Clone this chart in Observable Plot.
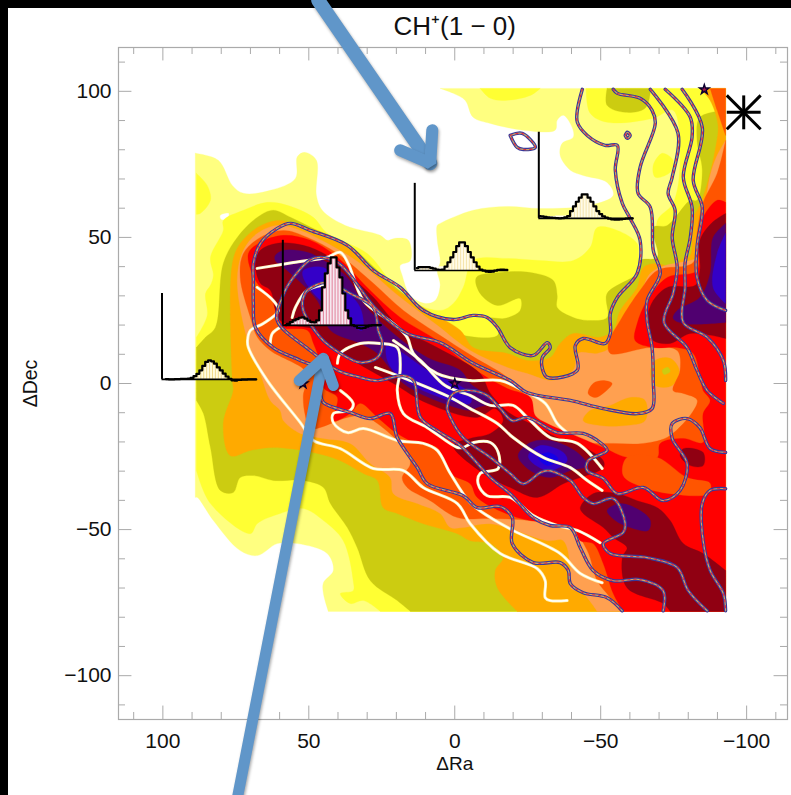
<!DOCTYPE html>
<html><head><meta charset="utf-8">
<script src="https://cdn.jsdelivr.net/npm/d3@7"></script>
<script src="https://cdn.jsdelivr.net/npm/@observablehq/plot@0.6"></script>
<style>
html,body{margin:0;padding:0;background:#fff;overflow:hidden}
#edgeT{position:absolute;left:0;top:0;width:791px;height:8px;background:#000}
#edgeL{position:absolute;left:0;top:0;width:8px;height:795px;background:#000}
#chart{position:absolute;left:0;top:0}
.arrow{filter:drop-shadow(1.5px 2px 1.5px rgba(0,0,0,.35))}
</style></head><body>
<div id="edgeT"></div><div id="edgeL"></div><div id="chart"></div>
<script>
const titleText="CH⁺(1 − 0)", xLabel="ΔRa", yLabel="ΔDec";
const xTicks=[100,50,0,-50,-100], yTicks=[100,50,0,-50,-100];
const xMinor=[110,90,80,70,60,40,30,20,10,-10,-20,-30,-40,-60,-70,-80,-90,-110];
const yMinor=[110,90,80,70,60,40,30,20,10,-10,-20,-30,-40,-60,-70,-80,-90,-110];

// filled emission levels, [dRa, dDec]
const paleMain=[[88.9,78.8],[81,76.4],[76.2,67.8],[72.4,65.1],[63.2,66.1],[54.6,70.2],[53.9,77.7],[51.2,79.1],[47.4,76.4],[47.4,64.4],[45.4,59.3],[37.5,54.1],[25.5,50.7],[23.1,49],[20.4,49.7],[15.9,49],[15.2,42.1],[18.7,40.4],[18,37],[15.2,30.1],[10.1,27.4],[6.7,28.4],[5,33.6],[6,38.7],[5,41.4],[6,49],[6,54.1],[5,54.8],[-6.3,59.3],[-18,60.6],[-29.3,59.9],[-46.4,61],[-54.3,64.4],[-52.2,68.8],[-44,71.2],[-39.6,73],[-36.1,78.1],[-36.8,82.2],[-40.6,84.3],[-40.2,87.7],[-37.2,91.8],[-35.1,90.1],[-34.4,86.7],[-23.5,86.7],[-12.2,89],[-6.3,91.1],[-3.6,96.9],[0.5,99.3],[5,101],[-92.8,101],[-92.8,-78],[43.3,-78],[45,-71.9],[45,-68.2],[41.6,-64],[43.7,-58.2],[53.9,-54.8],[60.8,-54.8],[67.6,-58.9],[73.5,-57.2],[82.7,-46.9],[88.2,-39],[88.9,-39]];
const whiteSpeck=[[80.3,57.5],[77.5,58.2],[77.9,56.5],[80,56.2]];
const yellowMain=[[82.7,37],[83.7,33.6],[85.4,30.8],[84.8,23.3],[88.5,15.8],[88.5,-29.8],[83.7,-41.1],[70,-51.4],[67.6,-47.9],[59.8,-44.5],[51.9,-42.8],[45,-46.9],[38.2,-53.8],[34.8,-67.5],[34.8,-70.9],[39.2,-71.9],[35.8,-75.3],[31.3,-74.3],[25.5,-78],[-92.8,-78],[-92.8,101],[-45,101],[-46.4,92.5],[-52.2,89.4],[-68,90.8],[-74.8,93.5],[-77.2,76.4],[-74.8,61.7],[-69.4,55.8],[-69.4,43.2],[-63.5,42.1],[-62.5,47.9],[-55.7,52.4],[-48.8,53.4],[-46.4,46.6],[-40.6,42.1],[-29.3,42.1],[-18,42.8],[-6.3,42.1],[-2.9,32.9],[0.5,27.4],[5,25],[17.6,29.5],[23.1,36.3],[30,44.5],[43.7,51.4],[48.5,56.9],[57.4,61],[64.2,62],[72.4,59.3],[79.3,55.8],[79.3,52.4],[83.7,43.2]];
const yellowLobe=[[88.5,71.9],[84.8,67.8],[83.7,62.7],[87.2,58.2],[88.5,57.9]];
const yellowTop=[[-8.7,101],[-12.2,97.6],[-17.3,96.9],[-25.9,98.6],[-29.3,101]];
const yellowBlob=[[-68,74.7],[-71.1,78.8],[-74.8,76.4],[-73.8,72.3],[-68.7,70.6]];
const oliveMain=[[88.5,12.3],[85.4,15.8],[82,19.2],[79.3,41.1],[74.5,50],[67.6,56.9],[62.2,59.3],[56.3,56.9],[47.1,52.4],[36.8,47.9],[26.5,38.7],[17.6,30.8],[6,22.6],[-0.9,17.1],[-14.6,16.4],[-14.6,19.9],[-12.2,22.3],[-17.3,22.3],[-22.4,25],[-22.4,29.1],[-14.6,26.7],[-8.7,30.8],[-7.4,36.3],[-15.6,38],[-25.9,38],[-33.7,35.3],[-35.1,30.1],[-35.1,26],[-40.6,22.6],[-45.4,21.6],[-52.2,22.6],[-52.2,30.8],[-62.5,37.7],[-63.5,42.1],[-69.4,43.2],[-68,53.4],[-72.8,54.1],[-80.7,62.7],[-83,62.7],[-84.8,73],[-83,83.2],[-84,91.1],[-92.8,93.5],[-92.8,-78],[15.2,-78],[19.7,-74.3],[28.9,-67.5],[33.4,-56.2],[36.8,-49.3],[42.6,-41.1],[45,-35.6],[51.9,-33.2],[62.2,-33.2],[69,-31.5],[73.5,-32.2],[75.9,-37.3],[80.3,-36.6],[83.7,-21.9],[86.1,-10.3],[88.5,-5.8]];
const oliveTop=[[-52.2,101],[-52.2,95.2],[-58.4,92.8],[-65.2,94.2],[-67,99.7],[-67,101]];
const orangeMain=[[76.9,-24.7],[79.3,-13.7],[75.9,-2.4],[76.2,1],[76.2,41.1],[73.5,47.9],[67.6,53.4],[60.8,55.8],[55.3,54.8],[41.6,50],[32.4,43.2],[21,32.9],[9.4,25],[-1.9,18.2],[-6.3,12.3],[-18,10.3],[-24.8,7.9],[-32.7,8.9],[-36.1,13.7],[-40.6,17.1],[-49.8,15.8],[-54.3,18.2],[-56.7,25],[-62.5,32.9],[-64.6,39.7],[-69.4,41.1],[-74.8,39.7],[-77.2,42.1],[-80.7,43.8],[-81.3,55.8],[-84,61],[-86.8,69.5],[-89.2,79.8],[-90.2,88.4],[-87.5,96.9],[-84,101],[-92.8,101],[-92.8,-78],[-21.4,-78],[-14.6,-69.9],[-13.9,-64],[-16.6,-59.6],[-12.2,-54.8],[-5.3,-53.8],[-0.9,-51.4],[10.8,-48],[19.7,-44.5],[24.5,-42.5],[26.5,-33.2],[31.3,-30.8],[39.2,-26.4],[48.5,-23.6],[62.2,-21.9],[70,-22.9]];
const lightMain=[[59.8,-9.2],[58.7,-12.7],[52.9,-17.1],[45,-18.8],[35.8,-20.5],[28.9,-27.4],[22.1,-32.2],[21,-37.7],[12.8,-41.1],[5,-44.5],[1.5,-49.3],[-2.9,-49.3],[-12.2,-48],[-31.7,-53.8],[-37.2,-53.8],[-39.6,-63],[-39.6,-69.9],[-44,-71.9],[-48.8,-78],[-92.8,-78],[-92.8,83.2],[-89.9,78.1],[-87.5,71.2],[-85.8,61],[-84,54.1],[-84,43.8],[-77.2,41.4],[-72.1,40.4],[-67,37.7],[-63.5,30.8],[-56.7,20.5],[-53.3,12.3],[-48.8,10.3],[-42.3,10.3],[-40.6,4.5],[-33.7,1],[-24.8,3.4],[-18,5.5],[-5.3,11.3],[6,19.9],[18.7,29.5],[32.4,41.1],[43.7,48],[52.9,52.4],[60.8,54.1],[67.6,51.4],[72.4,45.6],[74.5,35.3],[70.7,13.7],[66.6,3.4],[63.2,-5.8]];
const orangeBlobA=[[-44,-12.7],[-46.4,-9.2],[-53.3,-7.5],[-60.1,-4.8],[-65.2,-5.8],[-65.2,-12.7],[-58.4,-14.4],[-49.8,-14.4]];
const orangeBlobB=[[-67,3.8],[-68.7,7.9],[-73.8,8.6],[-76.9,4.5],[-74.5,-0.7],[-68.7,-0.7]];
const oliveSpeck=[[-71.1,4.5],[-73.1,5.5],[-73.8,4.1],[-71.7,3.1]];
const darkOrangeMain=[[72.4,44.5],[66.6,50],[58.7,52.4],[50.5,50],[40.2,44.5],[27.9,34.3],[17.6,25],[6,17.1],[-6.3,9.2],[-18,2.1],[-23.5,-3.4],[-25.2,-10.3],[-33.7,-17.1],[-44,-20.2],[-54.3,-20.5],[-64.6,-20.5],[-73.8,-17.8],[-83.1,-5.8],[-78.3,-3.4],[-74.8,-2.4],[-77.2,4.5],[-76.2,11.3],[-67,12.3],[-53.3,10.3],[-52.6,13.7],[-56.7,21.6],[-63.5,31.9],[-69.4,38.7],[-81.7,41.4],[-83,51.4],[-85,61.7],[-89.9,71.9],[-92.8,83.2],[-92.8,-78],[-56.7,-78],[-53.3,-73.3],[-48.8,-67.5],[-45.4,-57.2],[-39.6,-49.3],[-25.9,-46.9],[-12.2,-46.2],[-0.9,-45.9],[8.4,-40.1],[16.3,-35.6],[18,-32.2],[15.2,-27.4],[17.6,-21.9],[26.5,-13.7],[31.3,-11],[36.8,-11.6],[49.5,-15.4],[51.2,-11],[51.9,-4.1],[50.5,3.4],[63.2,11.3],[67.6,15.8],[70,22.6],[73.5,36.3]];
const darkOrangeTop=[[-87.5,101],[-92.8,101],[-92.8,84.9],[-89.9,93.5]];
const darkOrangeSpot=[[-45.7,-3.4],[-47.4,0],[-50.8,1],[-53.9,0],[-50.8,-3.4],[-48.1,-4.8]];
const redMain=[[70.7,44.5],[66.6,48.3],[58.7,50.7],[49.5,49],[40.2,43.2],[30,32.9],[18.7,22.6],[6,14.7],[-6.3,5.1],[-18,-1.7],[-25.9,-4.8],[-27.6,-11],[-31.7,-13.7],[-39.6,-17.1],[-50.8,-21.9],[-59,-25.3],[-69.4,-25.3],[-70.4,-20.5],[-78.3,-18.8],[-85.1,-20.2],[-85.1,-10.3],[-87.5,-5.8],[-85.1,-2.4],[-84.1,2.1],[-81.7,10.3],[-76.2,12.3],[-68,12.3],[-61.8,14.7],[-62.5,20.5],[-65.9,28.4],[-72.8,36.3],[-83,38.7],[-83,50],[-85.1,56.9],[-89.9,62.7],[-92.8,62],[-92.8,-78],[-57.7,-78],[-54.3,-71.9],[-50.9,-61.7],[-47.4,-54.8],[-43,-53.8],[-40.6,-49.3],[-33.7,-48],[-21.4,-45.9],[-7.7,-39],[-5.3,-34.3],[1.5,-30.8],[6,-21.9],[12.8,-20.5],[19.7,-17.1],[26.5,-11.6],[32.4,-6.8],[35.8,-10.3],[41.6,-12.7],[40.2,-4.8],[45,-1.4],[46,6.9],[48.4,13.7],[50.5,18.2],[58.7,19.2],[60.4,22.6],[63.2,29.5],[68.3,35.3]];
const darkOrangeGulf=[[-59,-25.3],[-69.4,-25.3],[-79.6,-32.2],[-87.5,-34.2],[-86.8,-37.7],[-73.8,-37.7],[-64.6,-35.6],[-57.7,-31.5]];
const darkRedRidge=[[68.3,41.1],[66.6,45.6],[60.8,48],[51.9,47.3],[43.7,43.8],[36.8,37.7],[27.9,29.5],[18.7,19.2],[6,12.3],[-8.7,3.4],[-12.2,-3.4],[-19,-10.3],[-25.9,-13.7],[-35.1,-18.5],[-43,-21.2],[-50.9,-26.4],[-50.9,-28.8],[-43,-32.2],[-37.2,-34.3],[-28.3,-39],[-19,-35.6],[-9.8,-30.8],[0.5,-21.2],[-5.3,-18.8],[-12.2,-17.1],[-16.6,-12.7],[-13.9,-8.6],[-7.7,-11.6],[9.4,-6.8],[21,0],[34.8,7.9],[46.1,15.8],[47.1,18.2],[59.8,21.6],[63.2,31.9],[66.6,34.3]];
const darkRedSouth=[[-43,-42.5],[-47.4,-37.7],[-55.7,-37.7],[-62.5,-40.1],[-69.4,-42.5],[-73.8,-46.9],[-78.3,-54.8],[-85.1,-58.2],[-92.8,-64],[-92.8,-78],[-73.8,-78],[-71.4,-75.3],[-59,-69.9],[-57.4,-59.6],[-59,-56.2],[-54.3,-52.7],[-50.9,-49.3],[-44,-44.5]];
const darkRedSpot=[[-78.3,-22.3],[-85.1,-23.6],[-85.1,-28.1],[-80.7,-28.1],[-77.2,-24.7]];
const darkRedNorth=[[-65.9,22.6],[-68,28.4],[-72.8,32.9],[-82.4,33.6],[-84,38.7],[-84,49],[-88.2,55.1],[-92.8,58.2],[-92.8,15.4],[-80.7,17.1],[-73.8,13.7],[-68,14.7],[-65.9,19.2]];
const purpleRidge=[[61.5,43.8],[58.7,45.6],[50.5,44.9],[43.7,41.4],[36.8,36.3],[31.3,27.4],[21,17.1],[9.4,8.9],[-1.9,4.5],[-5.3,0],[-9.9,-3.4],[-12.2,-6.8],[-7.7,-8.2],[-5.3,-9.2],[3.9,-6.8],[17.6,0],[26.5,10.3],[32.4,13.7],[42.6,18.2],[47.1,28.4],[57.4,38.7],[61.5,42.1]];
const purpleMid=[[-21.7,-24.7],[-25.9,-20.2],[-32.7,-19.5],[-42,-23.6],[-45.4,-28.1],[-39.6,-29.8],[-32.7,-32.2],[-25.9,-29.8]];
const purpleSouth=[[-52.2,-43.5],[-56.7,-41.1],[-63.5,-43.5],[-67,-46.9],[-66.3,-50.3],[-60.1,-49.3],[-55,-46.9]];
const purpleNorth=[[-92.8,54.8],[-88.5,50],[-87.5,37.7],[-84,29.5],[-76.2,25],[-74.8,22.3],[-78.3,20.5],[-92.8,20.9]];
const blueA=[[51.9,38.7],[45,39.7],[39.2,33.6],[32.4,26],[31.7,18.2],[39.2,23.3],[47.1,29.5],[51.9,36.3]];
const blueB=[[23.1,13.7],[17.6,10.3],[9.4,4.5],[-5.3,-3.4],[-5.3,-6.8],[5,-4.8],[18.7,2.1],[23.1,7.9]];
const blueMid=[[-25.2,-24.7],[-29.3,-21.2],[-37.2,-23.6],[-38.5,-26.4],[-32.7,-29.8],[-26.9,-27.4]];
const blueNorth=[[-92.8,51.4],[-89.9,44.5],[-88.5,32.9],[-92.8,27.4]];
const brightCore=[[-28.6,-25.3],[-32,-23.6],[-35.4,-25.7],[-32,-28.1]];

// molecular-line contours
const contourA=[[-43.7,100.7],[-42,93.5],[-42,89.4],[-45.4,84.9],[-51.5,81.5],[-55.7,81.5],[-55,73],[-57.4,61.7],[-60.1,56.5],[-63.5,49],[-62.5,37.7],[-55.7,29.5],[-53.3,24],[-53.3,17.1],[-51.5,13.7],[-44,15.4],[-41.3,13],[-42,4.5],[-31.7,2.1],[-30,5.1],[-30,8.9],[-32.7,12.3],[-31.7,14],[-26.9,9.6],[-19,12.3],[-14.6,19.2],[-11.1,22.6],[-6.3,23.3],[0.5,21.9],[10.8,25],[18.7,32.9],[27.9,38.7],[36.8,47.3],[49.5,52.4],[56.3,54.8],[60.8,53.1],[66.6,47.9],[69,41.1],[69,35.3],[69,27.4],[68.3,19.2],[62.2,12.3],[52.9,7.9],[46.1,4.5],[46,-3.4],[45,-6.5],[35.8,-9.9],[28.9,-12],[22.1,-10.3],[19.7,-18.5],[12.8,-28.8],[9.4,-34.3],[-2.9,-38.4],[-7.7,-42.5],[-15.6,-42.1],[-19.7,-45.9],[-19.7,-54.8],[-26.9,-61.3],[-36.1,-61.3],[-38.9,-64],[-39.6,-68.5],[-44,-71.6],[-52.2,-73.3],[-57.4,-77.8]];
const contourB=[[-54.3,100.7],[-55.7,99.3],[-63.5,97.6],[-67.6,93.5],[-68.7,89],[-63.5,74],[-62.8,65.1],[-67,60.3],[-68,45.6],[-70.4,37.7],[-65.9,28.4],[-65.9,21.6],[-67.6,12.3],[-68,1],[-67.6,-8.6],[-62.5,-10.3],[-50.9,-8.6],[-39.6,-5.8],[-24.8,-3.1],[-19,1],[-6.3,6.9],[5,14],[16.3,17.1],[26.5,25],[40.2,41.4],[48.4,42.8],[55.3,36.3],[59.1,29.5],[60.8,21.6],[49.5,11.3],[40.2,4.5],[32.4,2.1],[26.5,1],[17.6,2.7],[14.1,1],[11.8,-11.6],[5,-16.8],[-1.9,-21.2],[-12.2,-32.2],[-19,-37.7],[-26.9,-45.9],[-32.7,-48.6],[-39.6,-49.3],[-43,-56.2],[-47.4,-64],[-54.3,-67.5],[-63.5,-67.1],[-71.4,-70.9],[-71.4,-77.8]];
const contourC=[[-92.8,-23.6],[-87.5,-22.3],[-84,-15.1],[-79.6,-12],[-74.5,-13.7],[-74.5,-18.8],[-79.6,-27.4],[-77.2,-36.6],[-71.4,-40.1],[-64.6,-35.6],[-55.7,-37.7],[-50.9,-32.5],[-45.4,-29.8],[-45.7,-26.4],[-52.2,-22.9],[-49.8,-20.2],[-44,-17.1],[-35.1,-16.8],[-24.8,-11.6],[-19.7,-12.7],[-15.6,-8.6],[-11.1,-4.1],[-5.3,-2.4],[0.5,-3.4],[2.6,-8.2],[1.5,-11.6],[-2.9,-18.5],[-12.2,-25.3],[-19,-30.8],[-23.5,-34.3],[-29.3,-30.5],[-32,-29.8],[-39.6,-33.2],[-44,-39],[-47.4,-41.1],[-54.3,-39.4],[-58.4,-47.9],[-57.7,-51],[-50.9,-54.8],[-53.3,-58.2],[-65.9,-59.6],[-76.2,-63],[-80,-70.9],[-86.5,-77.8]];
const contourD=[[-92.8,-36],[-87.5,-36.6],[-84.8,-41.1],[-85.1,-53.8],[-87.5,-64],[-92,-71.9],[-92.8,-77.8]];
const contourE=[[-67,100.7],[-76.5,85.6],[-74.5,70.6],[-73.1,65.1],[-75.5,59.3],[-74.5,50],[-76.2,39.7],[-74.8,30.8],[-71.7,20.9],[-79.6,12.3],[-83,4.5],[-86.5,-2.4],[-92,-6.8]];
const contourF=[[-72.1,100.7],[-80.7,91.1],[-81.3,84.3],[-78.3,70.6],[-81.3,60.3],[-80.7,50],[-78.9,41.1],[-78.9,32.9],[-78.3,20.9],[-86.5,15.8],[-92,7.9],[-92.8,1]];
const contourG=[[-77.9,100.7],[-84.8,87.7],[-81.7,69.5],[-84.8,60.3],[-83,46.6],[-83,36.3],[-86.5,28.4],[-92.8,25]];
const contourLoop=[[52.2,28.4],[50.5,31.9],[43.7,34.6],[35.8,30.8],[27.9,26],[26.2,18.2],[24.8,13.7],[26.5,8.9],[32.4,7.2],[39.2,10.3],[46.1,15.8],[51.9,25],[52.2,28.4]];
const contourDiamond=[[-19,84.9],[-23.1,85.6],[-27.6,80.8],[-23.5,80.1],[-21.4,80.8],[-19,84.9]];
const contourSpot=[[-58.4,84.9],[-59.1,86],[-60.1,84.9],[-59.1,83.9],[-58.4,84.9]];

// white contours
const whiteA=[[67.7,39.4],[55.3,41.4],[43.7,43.2],[39.2,44.9],[36.5,41.1],[31.3,28.4],[21,20.5],[16.3,15.8],[14.2,10.3],[6,3.4],[-5.3,1],[-15.6,1],[-23.5,-2.4],[-31,-6.8],[-35.1,-13.7],[-38.5,-16.8]];
const whiteB=[[21,14.7],[11.8,7.9],[3.3,-0.7],[-5.3,-4.1],[-12.2,-7.5],[-20,-7.5],[-24.8,-11.6],[-32.7,-18.5],[-42,-20.5],[-50.5,-29.1]];
const whiteC=[[27.2,5.5],[15.2,1],[1.5,-4.8],[-5.3,-8.6],[-14.6,-13.7],[-20,-18.5],[-30.3,-25.3],[-39.6,-28.8],[-45.4,-33.2],[-50.5,-36.6]];
const whiteD=[[40.2,6.9],[39.2,10.3],[32.4,13.7],[25.5,13.7],[19.7,12.3],[18.7,4.5],[19.7,-2.4],[17.6,-10.3],[9.4,-15.1],[-0.9,-21.9],[-2.9,-21.9],[-6.5,-20.2],[-12.2,-20.2],[-14.9,-23.6],[-14.9,-29.1],[-8.7,-30.8],[-8,-34.3],[-11.1,-38.4],[-19,-39],[-26.9,-45.2],[-35.1,-48.6],[-42,-50.3],[-49.8,-54.5]];
const whiteE=[[39.2,-2.4],[34.8,-6.8],[35.8,-9.2],[41.6,-10.3],[41.6,-13.4],[36.8,-16.8],[31.3,-15.4],[19.7,-19.5],[10.8,-20.5],[6,-22.9],[1.5,-30.8],[-5.3,-40.8],[-12.2,-45.9],[-20,-50.3],[-36.1,-58.2],[-43,-65],[-50.5,-68.2]];
const whiteF=[[67.7,32.9],[62.2,28.4],[60.4,25],[65.6,20.5],[70,18.2],[71,14.7],[70.7,12.3],[64.2,1],[52.9,-13.4],[48.4,-19.5],[39.2,-22.3],[27.9,-29.1],[17.6,-29.8],[10.8,-35.6],[-0.9,-41.1],[-5.3,-48],[-15.6,-58.2],[-28.3,-63.4],[-31,-67.5],[-31,-73.3],[-32.7,-74.3],[-38.5,-74.3]];
const whiteG=[[59.8,19.2],[62.5,17.1],[63.2,13.7]];
const whiteH=[[55.7,22.6],[54.6,26],[50.5,31.9],[41.6,34.2]];

// inset spectra: offset, baseline, top of axis, right end, profile
const spec1={x0:100.3,base:1.4,top:30.8,end:67.8,fill:"#fffbe0",bar:"#e8c860",
 p:[[99,1.5],[97,1.4],[95,1.5],[93,1.6],[92,1.6],[91,1.7],[90,1.9],[89,2.5],[88,3.3],[87,4.5],[86,6],[85,7.4],[84,7.9],[83,7.6],[82,6.8],[81,5.5],[80,4.5],[79,3.4],[78,2.4],[77,1.6],[76,1.1],[75,1],[74,1.2],[72,1.3],[70,1.4],[68,1.4]]};
const spec2={x0:58.9,base:19.9,top:49,end:25.3,fill:"#f6e8f0",bar:"#d85070",
 p:[[58,20],[57,20.4],[56,21],[55,21.6],[54,22],[53,22.5],[52,22.6],[51,22.2],[50,21.5],[49,21],[48,20.9],[47,21.6],[46,25],[45,32.9],[44,37.7],[43,41.1],[42,43.2],[41,43.2],[40,39.7],[39,36.3],[38,30.8],[37,25],[36,22.3],[35,20],[34,19.6],[33,19],[32,18.9],[31,19],[30,19.5],[29,19.8],[28,20],[27,20],[26,20],[25.3,20]]};
const spec3={x0:13.7,base:38.7,top:68.5,end:-18.5,fill:"#fffbe8",bar:"#f0d890",
 p:[[13,39.5],[12,39.8],[11,39.8],[10,39.8],[9,39.8],[8,39.6],[7,39.3],[6,39],[5,38.9],[4,39],[3,40],[2,41.5],[1,43.2],[0,45],[-1,47],[-2,48.3],[-3,48.3],[-4,47],[-5,45],[-6,43.2],[-7,41.5],[-8,40],[-9,39],[-10,38.6],[-11,38.3],[-12,38.2],[-13,38.3],[-14,38.6],[-15,38.9],[-16,39],[-18,38.9]]};
const spec4={x0:-28.8,base:56.5,top:86,end:-61.3,fill:"#fffbe8",bar:"#f0d890",
 p:[[-29,57.3],[-30,57.2],[-31,57],[-32,56.9],[-33,56.8],[-34,56.7],[-35,56.6],[-36,56.5],[-37,56.6],[-38,56.9],[-39,57.3],[-40,59],[-41,60.6],[-42,62.2],[-43,63.6],[-44,64.7],[-45,64.7],[-46,63.6],[-47,62.2],[-48,60.6],[-49,59],[-50,58],[-51,57.2],[-52,56.8],[-53,56.4],[-54,56.2],[-55,56.1],[-56,56.1],[-57,56.2],[-58,56.3],[-59,56.4],[-60,56.5],[-61,56.5]]};

const starPositions=[[52,0],[0,0],[-85.5,100.6]];
const asteriskCentre=[-99,92.8];
const asteriskArm=5.8;
const arrowNorthShaft=[[46.8,131.2],[8.4,75.4]];
const arrowNorthHead=[[18.7,79.8],[8.4,75.4],[7.7,86.7]];
const arrowSouthShaft=[[74.5,-142],[45,8.6]];
const arrowSouthHead=[[53.3,1],[45,8.6],[41.6,-0.7]];

const pale="#ffff80",yellow="#ffff33",olive="#cccc11",orange="#ffaa00",light="#ffa050",dorange="#ff5500",red="#ff0000",dred="#900012",purple="#500070",blue="#3400c8",bright="#1400e8";
const layers=[[paleMain,pale],[whiteSpeck,"#ffffff"],[yellowMain,yellow],[yellowLobe,yellow],[yellowTop,yellow],[yellowBlob,yellow],[oliveMain,olive],[oliveTop,olive],[orangeMain,orange],[lightMain,light],[orangeBlobA,orange],[orangeBlobB,orange],[oliveSpeck,olive],[darkOrangeMain,dorange],[darkOrangeTop,dorange],[darkOrangeSpot,dorange],[redMain,red],[darkOrangeGulf,dorange],[darkRedRidge,dred],[darkRedSouth,dred],[darkRedSpot,dred],[darkRedNorth,dred],[purpleRidge,purple],[purpleMid,purple],[purpleSouth,purple],[purpleNorth,purple],[blueA,blue],[blueB,blue],[blueMid,blue],[blueNorth,blue],[brightCore,bright]];
const contours=[contourA,contourB,contourC,contourD,contourE,contourF,contourG,contourLoop,contourDiamond,contourSpot];
const whites=[whiteA,whiteB,whiteC,whiteD,whiteE,whiteF,whiteG,whiteH];
const spectra=[spec1,spec2,spec3,spec4];
const X=d=>d[0],Y=d=>d[1];
const grey="#aaaaaa";
const fmt=d=>d<0?"−"+(-d):""+d;
const xL=115.2,xR=-114,yT=115,yB=-115;
const onEdge=p=>p[0]<=-92.7||p[0]>=88.4||p[1]>=100.9||p[1]<=-77.9;
const sharpen=d=>d.flatMap(p=>onEdge(p)?[p,p,p]:[p]);

const specMarks=s=>{
  const hi=s.p.filter(d=>d[1]>s.base+0.6);
  return [
    Plot.areaY(hi,{x:X,y1:s.base,y2:Y,curve:"step",fill:s.fill}),
    Plot.ruleX(hi,{x:X,y1:s.base,y2:Y,stroke:s.bar,strokeWidth:0.8,strokeOpacity:0.85}),
    Plot.ruleX([s.x0],{y1:s.base,y2:s.top,stroke:"#000",strokeWidth:2}),
    Plot.ruleY([s.base],{x1:s.x0,x2:s.end,stroke:"#000",strokeWidth:1.6}),
    Plot.line(s.p,{x:X,y:Y,curve:"step",stroke:"#000",strokeWidth:2.2})
  ];
};
const arm=asteriskArm;
const [ax,ay]=asteriskCentre;

const plot=Plot.plot({
  width:791,height:795,marginLeft:118,marginRight:4,marginTop:47,marginBottom:76,
  x:{domain:[xL,xR]},y:{domain:[yB,yT]},
  style:{background:"transparent",fontFamily:"'Liberation Sans', sans-serif",fontSize:"21px",color:"#111"},
  marks:[
    Plot.frame({stroke:grey,strokeWidth:1.2}),
    Plot.ruleX(xTicks,{y1:yB,y2:yB+4.6,stroke:grey}),Plot.ruleX(xTicks,{y1:yT,y2:yT-4.6,stroke:grey}),
    Plot.ruleX(xMinor,{y1:yB,y2:yB+2.4,stroke:grey}),Plot.ruleX(xMinor,{y1:yT,y2:yT-2.4,stroke:grey}),
    Plot.ruleY(yTicks,{x1:xL,x2:xL-4.6,stroke:grey}),Plot.ruleY(yTicks,{x1:xR,x2:xR+4.6,stroke:grey}),
    Plot.ruleY(yMinor,{x1:xL,x2:xL-2.4,stroke:grey}),Plot.ruleY(yMinor,{x1:xR,x2:xR+2.4,stroke:grey}),
    ...layers.map(([d,c])=>Plot.line(sharpen(d),{x:X,y:Y,curve:"catmull-rom-closed",fill:c,stroke:c,strokeWidth:0.3})),
    ...whites.map(d=>Plot.line(d,{x:X,y:Y,curve:"catmull-rom",stroke:"#fff3b0",strokeWidth:3})),
    ...whites.map(d=>Plot.line(d,{x:X,y:Y,curve:"catmull-rom",stroke:"#ffffff",strokeWidth:1.5})),
    ...contours.map(d=>Plot.line(d,{x:X,y:Y,curve:"catmull-rom",stroke:"#38389a",strokeWidth:3.4})),
    ...contours.map(d=>Plot.line(d,{x:X,y:Y,curve:"catmull-rom",stroke:"#c8a868",strokeWidth:1.2})),
    ...contours.map(d=>Plot.line(d,{x:X,y:Y,curve:"catmull-rom",stroke:"#e03040",strokeWidth:1.2,strokeDasharray:"2,4"})),
    ...spectra.flatMap(specMarks),
    Plot.dot(starPositions,{x:X,y:Y,symbol:"star",r:3,stroke:"#0a0030",strokeWidth:1.4,fill:"#a01850"}),
    Plot.link([arm],{x1:ax-arm,x2:ax+arm,y1:ay,y2:ay,stroke:"#000",strokeWidth:3}),
    Plot.link([arm],{x1:ax,x2:ax,y1:ay-arm,y2:ay+arm,stroke:"#000",strokeWidth:3}),
    Plot.link([arm],{x1:ax-arm,x2:ax+arm,y1:ay-arm,y2:ay+arm,stroke:"#000",strokeWidth:3}),
    Plot.link([arm],{x1:ax-arm,x2:ax+arm,y1:ay+arm,y2:ay-arm,stroke:"#000",strokeWidth:3}),
    Plot.line(arrowNorthShaft,{x:X,y:Y,stroke:"#6096c9",strokeWidth:14,className:"arrow"}),
    Plot.line(arrowNorthHead,{x:X,y:Y,stroke:"#6096c9",strokeWidth:12,strokeLinecap:"round",strokeLinejoin:"miter",className:"arrow"}),
    Plot.line(arrowSouthShaft,{x:X,y:Y,stroke:"#6096c9",strokeWidth:11,className:"arrow"}),
    Plot.line(arrowSouthHead,{x:X,y:Y,stroke:"#6096c9",strokeWidth:11,strokeLinecap:"round",strokeLinejoin:"miter",className:"arrow"}),
    Plot.axisX({ticks:xTicks,tickSize:0,tickPadding:14,tickFormat:fmt,label:null,fontSize:21}),
    Plot.axisY({ticks:yTicks,tickSize:0,tickPadding:7,tickFormat:fmt,label:null,fontSize:21}),
    Plot.text([titleText],{x:0,y:122,fontSize:26,fill:"#111"}),
    Plot.text([xLabel],{x:0,y:-130.2,fontSize:19,fill:"#111"}),
    Plot.text([yLabel],{x:145.4,y:0,rotate:-90,fontSize:19.5,fill:"#111"})
  ]
});
document.getElementById("chart").append(plot);
</script></body></html>
